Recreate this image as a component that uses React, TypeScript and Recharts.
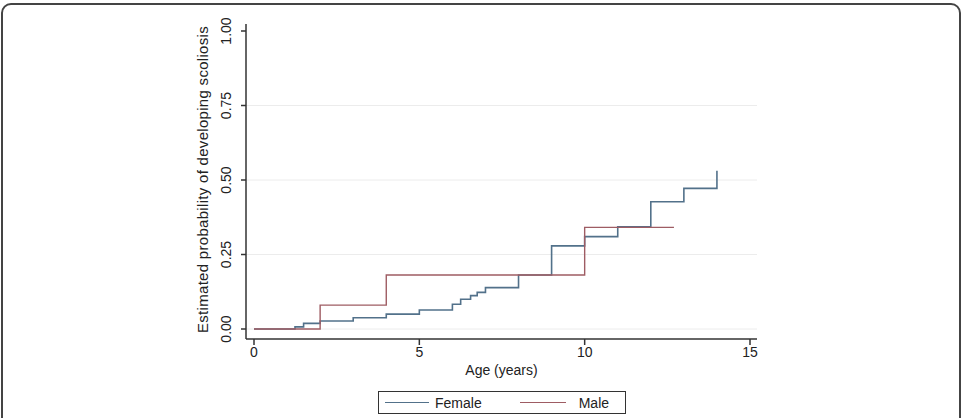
import { LineChart, Line, XAxis, YAxis, ReferenceLine } from 'recharts';

// Kaplan-Meier style cumulative probability
const femaleAge = [0, 1.24, 1.5, 2, 3, 4, 5, 6, 6.25, 6.55, 6.75, 7, 8, 9, 10, 11, 12, 13, 14];
const femaleProb = [0, 0.007, 0.019, 0.027, 0.038, 0.05, 0.064, 0.083, 0.1, 0.112, 0.123, 0.139, 0.181, 0.279, 0.31, 0.343, 0.427, 0.472, 0.531];
const maleAge = [0, 2, 4, 10, 12.7];
const maleProb = [0, 0.08, 0.181, 0.341, 0.341];

const xTicks = [0, 5, 10, 15];
const yTicks = [0, 0.25, 0.5, 0.75, 1];
const gridValues = [0, 0.25, 0.5, 0.75];

const FEMALE = '#52718a';
const MALE = '#9e5c63';
const FONT = '"Liberation Sans", Arial, sans-serif';

const female = femaleAge.map((age, i) => ({ age, p: femaleProb[i] }));
const male = maleAge.map((age, i) => ({ age, p: maleProb[i] }));

function YTick(props: any) {
    const { x, y, payload } = props;
    const cx = x - 13;
    return (
        <text x={cx} y={y} transform={`rotate(-90, ${cx}, ${y})`} textAnchor="middle" dominantBaseline="central"
            fontSize={14} fill="#222" fontFamily={FONT}>
            {Number(payload.value).toFixed(2)}
        </text>
    );
}

export default function App() {
    return (
        <div style={{ position: 'absolute', left: 0, top: 0, width: 963, height: 418, background: '#fff', overflow: 'hidden', fontFamily: FONT }}>
            <div style={{ position: 'absolute', left: 1, top: 3, width: 956, height: 440, border: '2px solid #444', borderRadius: 10 }} />
            <LineChart width={963} height={418} margin={{ top: 24, right: 206, bottom: 49, left: 0 }}>
                {gridValues.map((v) => (
                    <ReferenceLine key={v} y={v} stroke="#ececec" strokeWidth={1} />
                ))}
                <XAxis
                    type="number"
                    dataKey="age"
                    domain={[0, 15]}
                    ticks={xTicks}
                    allowDataOverflow
                    height={30}
                    padding={{ left: 8, right: 7 }}
                    stroke="#333"
                    strokeWidth={1.5}
                    tickSize={6}
                    tick={{ fontSize: 14, fill: '#222', fontFamily: FONT }}
                    label={{
                        content: (p: any) => {
                            const vb = p.viewBox;
                            return (
                                <text x={vb.x + vb.width / 2} y={vb.y + 36} textAnchor="middle" fontSize={14} fill="#222" fontFamily={FONT}>
                                    Age (years)
                                </text>
                            );
                        },
                    }}
                />
                <YAxis
                    type="number"
                    dataKey="p"
                    domain={[0, 1]}
                    ticks={yTicks}
                    width={246}
                    padding={{ top: 7, bottom: 10 }}
                    stroke="#333"
                    strokeWidth={1.5}
                    tickSize={5}
                    tick={<YTick />}
                    label={{
                        content: (p: any) => {
                            const vb = p.viewBox;
                            const cx = 202;
                            const cy = vb.y + vb.height / 2 - 2;
                            return (
                                <text x={cx} y={cy} transform={`rotate(-90, ${cx}, ${cy})`} textAnchor="middle" dominantBaseline="central"
                                    fontSize={15} letterSpacing={0.3} fill="#222" fontFamily={FONT}>
                                    Estimated probability of developing scoliosis
                                </text>
                            );
                        },
                    }}
                />
                <Line data={female} dataKey="p" type="stepAfter" stroke={FEMALE} strokeWidth={1.6} dot={false} isAnimationActive={false} />
                <Line data={male} dataKey="p" type="stepAfter" stroke={MALE} strokeWidth={1.4} dot={false} isAnimationActive={false} />
            </LineChart>
            <div style={{ position: 'absolute', left: 378, top: 391, width: 246, height: 21, border: '1.5px solid #333', display: 'flex', alignItems: 'center', fontSize: 14, color: '#222' }}>
                <span style={{ display: 'inline-block', width: 44, height: 0, borderTop: `1.5px solid ${FEMALE}`, marginLeft: 6 }} />
                <span style={{ marginLeft: 6 }}>Female</span>
                <span style={{ display: 'inline-block', width: 46, height: 0, borderTop: `1.5px solid ${MALE}`, marginLeft: 38 }} />
                <span style={{ marginLeft: 13 }}>Male</span>
            </div>
        </div>
    );
}
